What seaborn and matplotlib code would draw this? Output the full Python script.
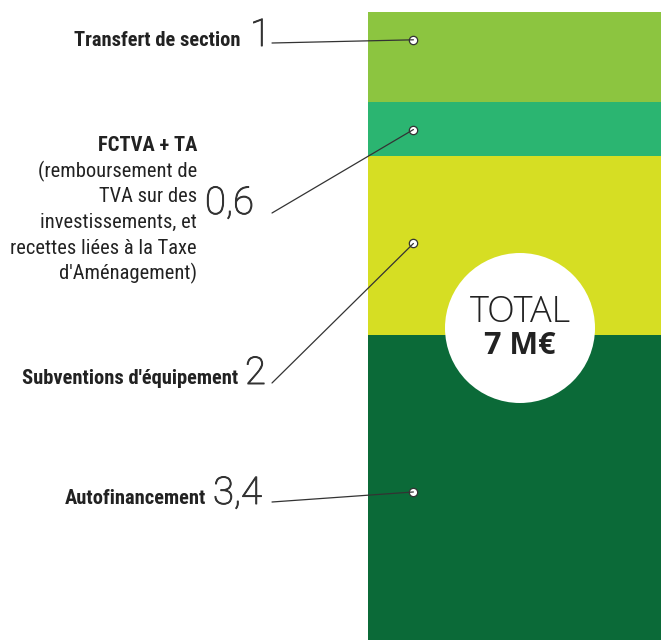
import matplotlib
matplotlib.use("Agg")
import matplotlib.pyplot as plt
import matplotlib.patheffects as pe
import seaborn as sns
import pandas as pd
import numpy as np
from matplotlib.patches import Circle, ConnectionPatch

# ---- data ----
categories = ["Autofinancement", "Subventions d'équipement", "FCTVA + TA", "Transfert de section"]
values = [3.4, 2, 0.6, 1]
value_labels = ["3,4", "2", "0,6", "1"]
colors = ["#0b6a38", "#d6de23", "#2bb571", "#8cc540"]
descriptions = ["", "", "(remboursement de\nTVA sur des\ninvestissements, et\nrecettes liées à la Taxe\nd'Aménagement)", ""]
total_label = "7 M€"

sns.set_theme(style="white")
LABEL_FONT = ['Roboto Condensed', 'Liberation Sans Narrow', 'Roboto', 'DejaVu Sans']
plt.rcParams['font.family'] = ['Roboto', 'DejaVu Sans']

W, H = 661, 640
fig = plt.figure(figsize=(W / 100, H / 100), dpi=100)

# bar axes
bx0, btop = 368, 12
axb = fig.add_axes([bx0 / W, 0, (W - bx0) / W, (H - btop) / H])
cum = np.cumsum(values)
df = pd.DataFrame({"g": ["Budget"] * len(values), "cum": cum, "cat": categories})
for i in range(len(values) - 1, -1, -1):
    sns.barplot(data=df.iloc[[i]], x="g", y="cum", color=colors[i], width=1.0,
                saturation=1, ax=axb, linewidth=0)
axb.set_xlim(-0.5, 0.5)
axb.set_ylim(0, sum(values))
axb.axis("off")

# overlay axes in pixel coordinates
axo = fig.add_axes([0, 0, 1, 1], zorder=5)
axo.set_xlim(0, W)
axo.set_ylim(H, 0)
axo.axis("off")
axo.patch.set_alpha(0)

# annotation layout (pixel positions)
dot_x = -0.345
dot_y = [1.65, 4.42, 5.69, 6.69]
label_specs = [
    dict(name_x=206, num_x=213, y=504, line=(272, 502)),
    dict(name_x=238, num_x=245, y=384, line=(272, 383)),
    dict(name_x=197, num_x=205, y=214, line=(272, 213)),
    dict(name_x=241, num_x=250, y=46, line=(272, 43)),
]
FS = 14.8
num_fx = [pe.withStroke(linewidth=0.7, foreground="#333333")]

for i, spec in enumerate(label_specs):
    if descriptions[i]:
        axo.text(spec["name_x"], 151, categories[i], ha="right", va="baseline",
                 fontsize=FS, fontweight="bold", color="#222222", family=LABEL_FONT)
        for k, line in enumerate(descriptions[i].split("\n")):
            axo.text(spec["name_x"], 177 + 25.5 * k, line, ha="right", va="baseline",
                     fontsize=FS, color="#222222", family=LABEL_FONT)
    else:
        axo.text(spec["name_x"], spec["y"], categories[i], ha="right", va="baseline",
                 fontsize=FS, fontweight="bold", color="#222222", family=LABEL_FONT)
    axo.text(spec["num_x"], spec["y"], value_labels[i], ha="left", va="baseline",
             fontsize=27.5, fontweight="light", color="#333333", path_effects=num_fx)
    con = ConnectionPatch(xyA=spec["line"], coordsA=axo.transData,
                          xyB=(dot_x, dot_y[i]), coordsB=axb.transData,
                          color="#333333", lw=0.9, zorder=6)
    fig.add_artist(con)
    axb.plot([dot_x], [dot_y[i]], marker="o", ms=6, mfc="white", mec="#333333",
             mew=0.9, zorder=7, clip_on=False)

# total circle
axo.add_patch(Circle((520, 328), 75, facecolor="white", edgecolor="none", zorder=8))
axo.text(520, 312, "TOTAL", ha="center", va="center", fontsize=26, fontweight="light",
         color="#222222", family=["Open Sans", "DejaVu Sans"], zorder=9)
axo.text(520, 346, total_label, ha="center", va="center", fontsize=22, fontweight="bold",
         color="#222222", family=["Open Sans", "DejaVu Sans"], zorder=9)

fig.savefig("out.png", dpi=100, facecolor="white")
